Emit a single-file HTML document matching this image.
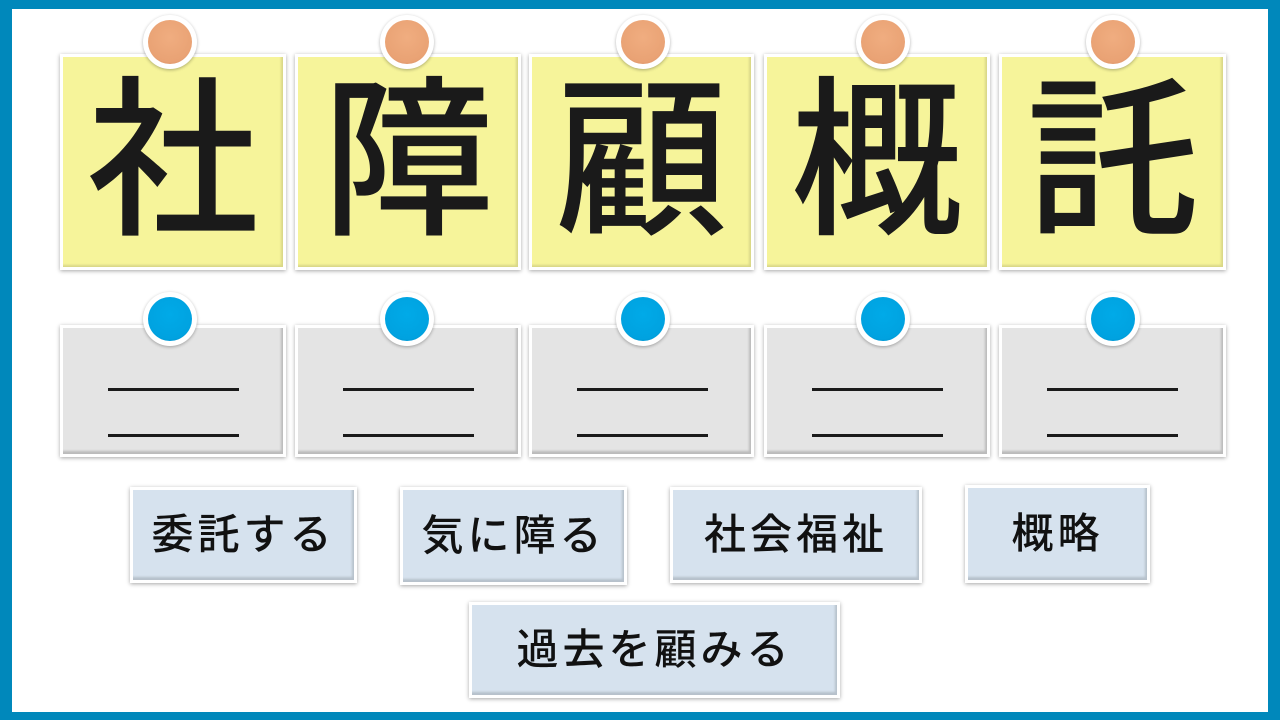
<!DOCTYPE html>
<html><head><meta charset="utf-8"><style>
*{margin:0;padding:0;box-sizing:border-box}
body{width:1280px;height:720px;position:relative;background:#0088bb;overflow:hidden;font-family:"Liberation Sans","Noto Sans CJK JP",sans-serif}
.in{position:absolute;left:12px;top:9px;width:1256px;height:703px;background:#fff}
.card{position:absolute;border:3px solid #fff;box-shadow:0 1px 4px rgba(0,0,0,.35)}
.y{background:#f6f49a;top:54px;height:216px;box-shadow:0 1px 4px rgba(0,0,0,.35), inset -2px -2px 2px rgba(0,0,0,.12)}
.g{background:#e4e4e4;top:325px;height:132px;box-shadow:0 1px 4px rgba(0,0,0,.35), inset -2px -3px 2px rgba(0,0,0,.18)}
.y span{position:absolute;left:0;right:0;top:10px;text-align:center;font-size:172px;line-height:190px;font-weight:500;color:#1a1a1a}
.l{position:absolute;left:45px;width:131px;height:3px;background:#1a1a1a}
.pin{position:absolute;width:54px;height:54px;border-radius:50%;background:#fff;box-shadow:0 1px 3px rgba(0,0,0,.3)}
.pin i{position:absolute;left:5px;top:5px;width:44px;height:44px;border-radius:50%}
.o i{background:radial-gradient(circle at 50% 40%,#f0ad80,#e9a274 70%,#c88055)}
.b i{background:radial-gradient(circle at 50% 40%,#00aae8,#00a2e0 70%,#0080b8)}
.btn{position:absolute;background:#d6e2ee;border:3px solid #fff;box-shadow:0 1px 4px rgba(0,0,0,.35), inset -2px -3px 2px rgba(0,0,0,.15);font-size:42px;font-weight:500;letter-spacing:4px;color:#111;text-align:center}
</style></head><body><div class="in"></div>
<div class="card y" style="left:60px;width:226px"><span>社</span></div>
<div class="card y" style="left:295px;width:226px"><span>障</span></div>
<div class="card y" style="left:529px;width:225px"><span>顧</span></div>
<div class="card y" style="left:764px;width:226px"><span>概</span></div>
<div class="card y" style="left:999px;width:227px"><span>託</span></div>

<div class="card g" style="left:60px;width:226px"><div class="l" style="top:60px"></div><div class="l" style="top:106px"></div></div>
<div class="card g" style="left:295px;width:226px"><div class="l" style="top:60px"></div><div class="l" style="top:106px"></div></div>
<div class="card g" style="left:529px;width:225px"><div class="l" style="top:60px"></div><div class="l" style="top:106px"></div></div>
<div class="card g" style="left:764px;width:226px"><div class="l" style="top:60px"></div><div class="l" style="top:106px"></div></div>
<div class="card g" style="left:999px;width:227px"><div class="l" style="top:60px"></div><div class="l" style="top:106px"></div></div>

<div class="pin o" style="left:143px;top:15px"><i></i></div>
<div class="pin o" style="left:380px;top:15px"><i></i></div>
<div class="pin o" style="left:616px;top:15px"><i></i></div>
<div class="pin o" style="left:856px;top:15px"><i></i></div>
<div class="pin o" style="left:1086px;top:15px"><i></i></div>
<div class="pin b" style="left:143px;top:292px"><i></i></div>
<div class="pin b" style="left:380px;top:292px"><i></i></div>
<div class="pin b" style="left:616px;top:292px"><i></i></div>
<div class="pin b" style="left:856px;top:292px"><i></i></div>
<div class="pin b" style="left:1086px;top:292px"><i></i></div>

<div class="btn" style="left:130px;top:487px;width:227px;height:96px;line-height:90px">委託する</div>
<div class="btn" style="left:400px;top:487px;width:227px;height:98px;line-height:92px">気に障る</div>
<div class="btn" style="left:670px;top:487px;width:252px;height:96px;line-height:90px">社会福祉</div>
<div class="btn" style="left:965px;top:485px;width:185px;height:98px;line-height:92px">概略</div>
<div class="btn" style="left:469px;top:602px;width:371px;height:96px;line-height:90px">過去を顧みる</div>
</body></html>
